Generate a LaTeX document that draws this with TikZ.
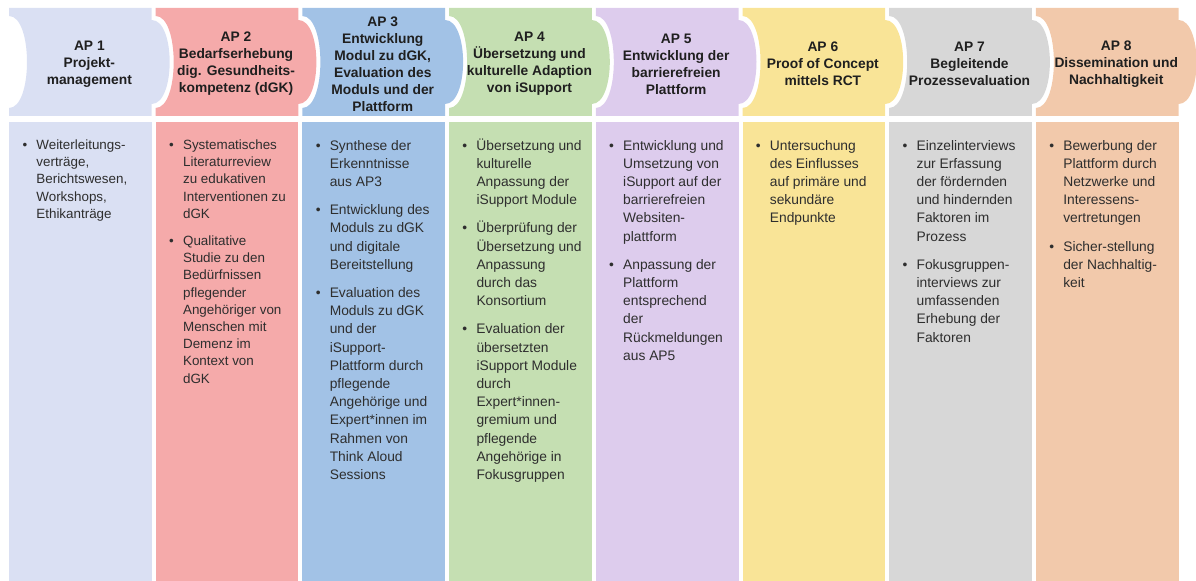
\documentclass[tikz,border=0pt]{standalone}
\usepackage{fontspec}
\setmainfont{Liberation Sans}
\definecolor{ap1}{RGB}{218,224,243}
\definecolor{ap2}{RGB}{245,170,170}
\definecolor{ap3}{RGB}{162,194,230}
\definecolor{ap4}{RGB}{197,223,178}
\definecolor{ap5}{RGB}{221,204,237}
\definecolor{ap6}{RGB}{249,228,151}
\definecolor{ap7}{RGB}{215,215,215}
\definecolor{ap8}{RGB}{242,201,171}
\newcommand{\bul}{\llap{\textbullet\hspace{4.6pt}}}

\begin{document}
\begin{tikzpicture}[x=0.5pt, y=-0.5pt,
    head/.style = {font=\bfseries\fontsize{6.9pt}{8.5pt}\selectfont, align=center, text=black!88, inner sep=0pt},
    body/.style = {font=\fontsize{6.9pt}{9.1pt}\selectfont, align=left, anchor=north west, text=black!82, inner sep=0pt},
    small/.style = {font=\fontsize{6.7pt}{8.6pt}\selectfont}]
    \useasboundingbox (0,0) rectangle (1196,581);
    % column shapes: header with notch and tab, then the body
    \foreach \k/\c in {1/ap1, 2/ap2, 3/ap3, 4/ap4, 5/ap5, 6/ap6, 7/ap7, 8/ap8} {
        \pgfmathsetmacro{\a}{9+(\k-1)*146.7}
        \pgfmathsetmacro{\b}{\a+142.7}
        \fill[\c] (\a,8) -- (\b,8) -- (\b,20) .. controls (\b+24,20) and (\b+24,104) .. (\b,104)
            -- (\b,116) -- (\a,116) -- (\a,108) .. controls (\a+24,108) and (\a+24,16) .. (\a,16) -- cycle;
        \fill[\c] (\a,122) rectangle (\b,581);
    }
    % headers
    \node[head] (h1) at (89.35,64) {AP 1\\Projekt-\\management};
    \node[head] (h2) at (236.05,64) {AP 2\\Bedarfserhebung\\dig. Gesundheits-\\kompetenz (dGK)};
    \node[head] (h3) at (382.75,64.5) {AP 3\\Entwicklung\\Modul zu dGK,\\Evaluation des\\Moduls und der\\Plattform};
    \node[head] (h4) at (529.45,64) {AP 4\\Übersetzung und\\kulturelle Adaption\\von iSupport};
    \node[head] (h5) at (676.15,64) {AP 5\\Entwicklung der\\barrierefreien\\Plattform};
    \node[head] (h6) at (822.85,64) {AP 6\\Proof of Concept\\mittels RCT};
    \node[head] (h7) at (969.55,64) {AP 7\\Begleitende\\Prozessevaluation};
    \node[head] (h8) at (1116.25,64) {AP 8\\Dissemination und\\Nachhaltigkeit};
    % bullet lists
    \node[body, small] (t1) at (36,137) {\strut\bul Weiterleitungs-\\verträge,\\Berichtswesen,\\Workshops,\\Ethikanträge};
    \node[body, small] (t2) at (182.7,137) {\strut\bul Systematisches\\Literaturreview\\zu edukativen\\Interventionen zu\\dGK\\[5pt]
        \bul Qualitative\\Studie zu den\\Bedürfnissen\\pflegender\\Angehöriger von\\Menschen mit\\Demenz im\\Kontext von\\dGK};
    \node[body] (t3) at (329.4,137) {\strut\bul Synthese der\\Erkenntnisse\\aus AP3\\[5pt]
        \bul Entwicklung des\\Moduls zu dGK\\und digitale\\Bereitstellung\\[5pt]
        \bul Evaluation des\\Moduls zu dGK\\und der\\iSupport-\\Plattform durch\\pflegende\\Angehörige und\\Expert*innen im\\Rahmen von\\Think Aloud\\Sessions};
    \node[body] (t4) at (476.1,137) {\strut\bul Übersetzung und\\kulturelle\\Anpassung der\\iSupport Module\\[5pt]
        \bul Überprüfung der\\Übersetzung und\\Anpassung\\durch das\\Konsortium\\[5pt]
        \bul Evaluation der\\übersetzten\\iSupport Module\\durch\\Expert*innen-\\gremium und\\pflegende\\Angehörige in\\Fokusgruppen};
    \node[body] (t5) at (622.8,137) {\strut\bul Entwicklung und\\Umsetzung von\\iSupport auf der\\barrierefreien\\Websiten-\\plattform\\[5pt]
        \bul Anpassung der\\Plattform\\entsprechend\\der\\Rückmeldungen\\aus AP5};
    \node[body] (t6) at (769.5,137) {\strut\bul Untersuchung\\des Einflusses\\auf primäre und\\sekundäre\\Endpunkte};
    \node[body] (t7) at (916.2,137) {\strut\bul Einzelinterviews\\zur Erfassung\\der fördernden\\und hindernden\\Faktoren im\\Prozess\\[5pt]
        \bul Fokusgruppen-\\interviews zur\\umfassenden\\Erhebung der\\Faktoren};
    \node[body] (t8) at (1062.9,137) {\strut\bul Bewerbung der\\Plattform durch\\Netzwerke und\\Interessens-\\vertretungen\\[5pt]
        \bul Sicher-stellung\\der Nachhaltig-\\keit};
\end{tikzpicture}
\end{document}
